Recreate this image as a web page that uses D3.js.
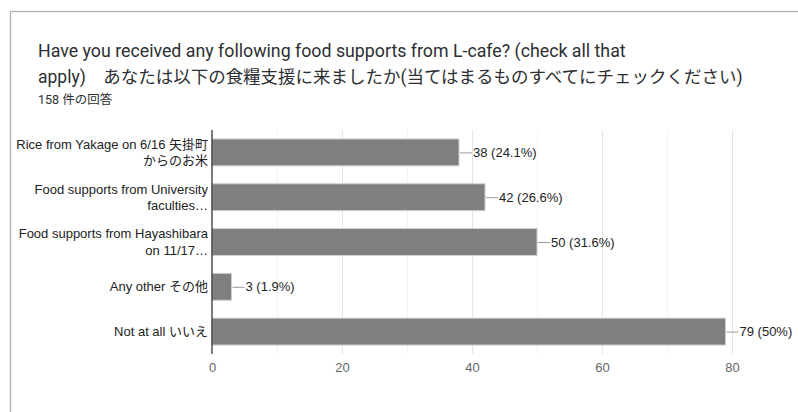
<!DOCTYPE html>
<html>
<head>
<meta charset="utf-8">
<script src="https://cdn.jsdelivr.net/npm/d3@7"></script>
<style>
  html, body { margin: 0; padding: 0; background: #fff; }
  svg { display: block; }
</style>
</head>
<body>
<svg id="chart" width="798" height="412"></svg>
<script>
// Survey responses: food supports received from L-cafe
const titleLines = [
  "Have you received any following food supports from L-cafe? (check all that",
  "apply)\u3000あなたは以下の食糧支援に来ましたか(当てはまるものすべてにチェックください)"
];
const responseCount = "158 件の回答";
const categories = [
  ["Rice from Yakage on 6/16 矢掛町", "からのお米"],
  ["Food supports from University", "faculties…"],
  ["Food supports from Hayashibara", "on 11/17…"],
  ["Any other その他"],
  ["Not at all いいえ"]
];
const counts = [38, 42, 50, 3, 79];
const percents = ["24.1%", "26.6%", "31.6%", "1.9%", "50%"];
const majorTicks = [0, 20, 40, 60, 80];
const minorTicks = [10, 30, 50, 70];

const svg = d3.select("#chart");
const latin = "'Liberation Sans', Arial, 'Noto Sans CJK JP', sans-serif";
const titleFont = "Roboto, 'Noto Sans CJK JP', sans-serif";

// card outline (continues past the right and bottom edges)
svg.append("rect")
  .attr("x", 10.5).attr("y", 11.5)
  .attr("width", 820).attr("height", 430)
  .attr("fill", "#fff").attr("stroke", "#b0b0b0").attr("stroke-width", 1.3);

// title, fitted to its line widths
const titleSpecs = [
  { text: titleLines[0], y: 57, width: 588 },
  { text: titleLines[1], y: 83, width: 705 }
];
titleSpecs.forEach(s => {
  const t = svg.append("text")
    .attr("x", 38).attr("y", s.y)
    .attr("font-family", titleFont)
    .attr("font-size", 16)
    .attr("fill", "#2d2f33")
    .text(s.text);
  const w = t.node().getComputedTextLength();
  t.attr("font-size", 16 * s.width / w);
});

svg.append("text")
  .attr("x", 38).attr("y", 104)
  .attr("font-family", titleFont)
  .attr("font-size", 12.5)
  .attr("fill", "#2d2f33")
  .text(responseCount);

// plot area
const x = d3.scaleLinear().domain([0, 80]).range([212, 732]);
const y = d3.scaleBand()
  .domain(d3.range(categories.length))
  .range([130, 354])
  .paddingInner(0.4).paddingOuter(0.2);

const grid = svg.append("g");
grid.selectAll("line.minor").data(minorTicks).join("line")
  .attr("class", "minor")
  .attr("x1", d => x(d) + 0.5).attr("x2", d => x(d) + 0.5)
  .attr("y1", 130).attr("y2", 354)
  .attr("stroke", "#f2f2f2").attr("stroke-width", 1);
grid.selectAll("line.major").data(majorTicks.slice(1)).join("line")
  .attr("class", "major")
  .attr("x1", d => x(d) + 0.5).attr("x2", d => x(d) + 0.5)
  .attr("y1", 130).attr("y2", 354)
  .attr("stroke", "#e4e4e4").attr("stroke-width", 1);

// x axis tick labels
const xAxis = d3.axisBottom(x).tickValues(majorTicks).tickSize(0).tickPadding(0);
const ax = svg.append("g").attr("transform", "translate(0,364)").call(xAxis);
ax.select(".domain").remove();
ax.selectAll("text")
  .attr("font-family", latin)
  .attr("font-size", 13)
  .attr("fill", "#666")
  .attr("dy", "0.6em");

// bars
svg.append("g").selectAll("rect").data(counts).join("rect")
  .attr("x", x(0))
  .attr("y", (d, i) => y(i))
  .attr("width", d => x(d) - x(0))
  .attr("height", y.bandwidth())
  .attr("fill", "#7f7f7f")
  .attr("stroke", "#cfcfcf").attr("stroke-width", 1);

// zero baseline
svg.append("line")
  .attr("x1", x(0)).attr("x2", x(0))
  .attr("y1", 130).attr("y2", 354)
  .attr("stroke", "#333").attr("stroke-width", 1.3);

// value annotations with stems
const ann = svg.append("g");
ann.selectAll("line").data(counts).join("line")
  .attr("x1", d => x(d) + 1).attr("x2", d => x(d) + 13)
  .attr("y1", (d, i) => y(i) + y.bandwidth() / 2 + 0.5)
  .attr("y2", (d, i) => y(i) + y.bandwidth() / 2 + 0.5)
  .attr("stroke", "#9a9a9a").attr("stroke-width", 1);
ann.selectAll("text").data(counts).join("text")
  .attr("x", d => x(d) + 14)
  .attr("y", (d, i) => y(i) + y.bandwidth() / 2)
  .attr("dy", "0.36em")
  .attr("font-family", latin)
  .attr("font-size", 13)
  .attr("fill", "#222")
  .text((d, i) => `${d} (${percents[i]})`);

// category labels (right aligned, wrapped)
const cat = svg.append("g");
categories.forEach((lines, i) => {
  const cy = y(i) + y.bandwidth() / 2;
  const lh = 16.5;
  const t = cat.append("text")
    .attr("text-anchor", "end")
    .attr("font-family", latin)
    .attr("font-size", 13)
    .attr("fill", "#222");
  lines.forEach((ln, j) => {
    t.append("tspan")
      .attr("x", 208)
      .attr("y", cy + (j - (lines.length - 1) / 2) * lh)
      .attr("dy", "0.36em")
      .text(ln);
  });
});
</script>
</body>
</html>
